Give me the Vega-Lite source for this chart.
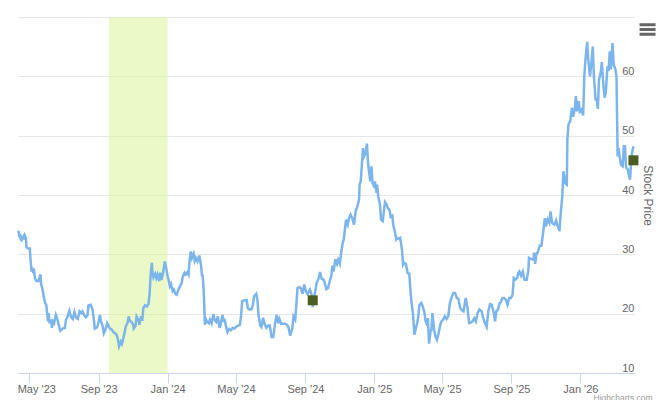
{
  "$schema": "https://vega.github.io/schema/vega-lite/v6.json",
  "width": 616,
  "height": 356,
  "autosize": "none",
  "padding": {"left": 18, "top": 17, "right": 26, "bottom": 27},
  "background": "white",
  "config": {
    "view": {"stroke": null},
    "font": "Liberation Sans"
  },
  "layer": [
    {
      "data": {"values": [{"start": "2023-09-19", "end": "2024-01-01"}]},
      "mark": {"type": "rect", "color": "#d8f391", "opacity": 0.5},
      "encoding": {
        "x": {
          "field": "start",
          "type": "temporal",
          "title": null,
          "scale": {"type": "utc", "domain": ["2023-04-11", "2026-04-06"]},
          "axis": {
            "values": ["2023-05-01", "2023-09-01", "2024-01-01", "2024-05-01", "2024-09-01", "2025-01-01", "2025-05-01", "2025-09-01", "2026-01-01"],
            "format": "%b '%y",
            "grid": false,
            "tickSize": 10,
            "tickColor": "#ccd6eb",
            "domainColor": "#ccd6eb",
            "labelColor": "#666666",
            "labelFontSize": 11,
            "labelFont": "Liberation Sans",
            "labelPadding": 0,
            "labelOverlap": false,
            "labelBound": false,
            "labelFlush": false,
            "labelOffset": {"condition": {"test": "utcyear(datum.value) == 2023 && utcmonth(datum.value) == 4", "value": 7}, "value": 0}
          }
        },
        "x2": {"field": "end"}
      }
    },
    {
      "data": {"values": [
        {"date":"2023-04-12","price":34.0},{"date":"2023-04-13","price":33.2},{"date":"2023-04-15","price":32.75},{"date":"2023-04-16","price":33.0},{"date":"2023-04-18","price":32.5},{"date":"2023-04-20","price":32.9},{"date":"2023-04-21","price":32.5},{"date":"2023-04-23","price":33.2},{"date":"2023-04-25","price":32.75},{"date":"2023-04-26","price":31.2},{"date":"2023-04-29","price":31.0},{"date":"2023-05-02","price":31.0},{"date":"2023-05-03","price":29.4},{"date":"2023-05-05","price":27.1},{"date":"2023-05-06","price":27.8},{"date":"2023-05-08","price":26.85},{"date":"2023-05-09","price":27.6},{"date":"2023-05-11","price":26.0},{"date":"2023-05-13","price":25.55},{"date":"2023-05-17","price":25.45},{"date":"2023-05-21","price":26.6},{"date":"2023-05-22","price":24.9},{"date":"2023-05-24","price":24.3},{"date":"2023-05-26","price":23.2},{"date":"2023-05-29","price":21.8},{"date":"2023-05-31","price":21.5},
        {"date":"2023-06-02","price":19.8},{"date":"2023-06-03","price":18.7},{"date":"2023-06-04","price":20.1},{"date":"2023-06-06","price":18.6},{"date":"2023-06-09","price":18.8},{"date":"2023-06-10","price":17.6},{"date":"2023-06-12","price":18.7},{"date":"2023-06-14","price":18.4},{"date":"2023-06-17","price":19.8},{"date":"2023-06-20","price":19.0},{"date":"2023-06-22","price":18.1},{"date":"2023-06-25","price":17.1},{"date":"2023-06-29","price":17.5},{"date":"2023-07-03","price":17.6},{"date":"2023-07-05","price":19.0},{"date":"2023-07-07","price":19.3},{"date":"2023-07-11","price":20.5},{"date":"2023-07-14","price":19.4},{"date":"2023-07-17","price":19.1},{"date":"2023-07-20","price":20.3},{"date":"2023-07-23","price":19.3},{"date":"2023-07-26","price":19.1},{"date":"2023-07-29","price":20.4},{"date":"2023-08-01","price":20.1},{"date":"2023-08-03","price":20.4},{"date":"2023-08-06","price":19.8},{"date":"2023-08-09","price":19.4},{"date":"2023-08-12","price":19.7},{"date":"2023-08-14","price":21.4},{"date":"2023-08-18","price":21.5},{"date":"2023-08-21","price":20.7},{"date":"2023-08-23","price":19.3},{"date":"2023-08-25","price":17.5},{"date":"2023-08-29","price":17.7},{"date":"2023-08-31","price":18.25},{"date":"2023-09-03","price":19.8},{"date":"2023-09-05","price":18.7},{"date":"2023-09-08","price":17.85},{"date":"2023-09-10","price":16.7},{"date":"2023-09-13","price":17.3},{"date":"2023-09-16","price":18.4},{"date":"2023-09-20","price":17.6},{"date":"2023-09-24","price":17.3},{"date":"2023-09-27","price":16.9},{"date":"2023-09-30","price":16.7},
        {"date":"2023-10-03","price":16.4},{"date":"2023-10-05","price":15.6},{"date":"2023-10-07","price":14.5},{"date":"2023-10-10","price":15.3},{"date":"2023-10-12","price":14.9},{"date":"2023-10-14","price":15.6},{"date":"2023-10-16","price":16.5},{"date":"2023-10-19","price":17.9},{"date":"2023-10-22","price":18.4},{"date":"2023-10-24","price":19.55},{"date":"2023-10-26","price":18.8},{"date":"2023-10-29","price":18.6},{"date":"2023-11-01","price":18.15},{"date":"2023-11-02","price":17.5},{"date":"2023-11-05","price":17.9},{"date":"2023-11-07","price":19.55},{"date":"2023-11-10","price":19.0},{"date":"2023-11-12","price":18.15},{"date":"2023-11-15","price":19.55},{"date":"2023-11-17","price":18.8},{"date":"2023-11-19","price":20.95},{"date":"2023-11-22","price":21.4},{"date":"2023-11-25","price":21.2},{"date":"2023-11-28","price":21.6},{"date":"2023-11-30","price":23.2},{"date":"2023-12-02","price":26.6},{"date":"2023-12-04","price":28.55},{"date":"2023-12-05","price":27.1},{"date":"2023-12-07","price":26.1},{"date":"2023-12-10","price":26.7},{"date":"2023-12-12","price":26.0},{"date":"2023-12-14","price":26.6},{"date":"2023-12-17","price":25.5},{"date":"2023-12-19","price":26.9},{"date":"2023-12-21","price":25.7},{"date":"2023-12-24","price":26.9},{"date":"2023-12-27","price":28.8},{"date":"2023-12-30","price":27.4},
        {"date":"2024-01-01","price":26.3},{"date":"2024-01-02","price":26.0},{"date":"2024-01-05","price":24.6},{"date":"2024-01-07","price":25.0},{"date":"2024-01-10","price":23.8},{"date":"2024-01-12","price":24.05},{"date":"2024-01-15","price":23.3},{"date":"2024-01-17","price":23.2},{"date":"2024-01-20","price":24.05},{"date":"2024-01-23","price":24.6},{"date":"2024-01-26","price":25.2},{"date":"2024-01-28","price":26.3},{"date":"2024-01-31","price":26.9},{"date":"2024-02-02","price":26.6},{"date":"2024-02-05","price":27.0},{"date":"2024-02-07","price":26.6},{"date":"2024-02-09","price":29.1},{"date":"2024-02-11","price":30.5},{"date":"2024-02-13","price":29.4},{"date":"2024-02-16","price":30.1},{"date":"2024-02-18","price":28.9},{"date":"2024-02-20","price":29.4},{"date":"2024-02-23","price":28.8},{"date":"2024-02-26","price":29.8},{"date":"2024-02-29","price":28.3},{"date":"2024-03-02","price":26.3},{"date":"2024-03-03","price":26.6},{"date":"2024-03-05","price":23.8},{"date":"2024-03-07","price":18.15},{"date":"2024-03-09","price":19.0},{"date":"2024-03-11","price":18.6},{"date":"2024-03-14","price":18.4},{"date":"2024-03-16","price":19.0},{"date":"2024-03-19","price":18.4},{"date":"2024-03-22","price":19.95},{"date":"2024-03-24","price":19.0},{"date":"2024-03-27","price":18.6},{"date":"2024-03-30","price":19.55},{"date":"2024-04-02","price":17.6},{"date":"2024-04-04","price":18.15},{"date":"2024-04-07","price":19.8},{"date":"2024-04-10","price":18.6},
        {"date":"2024-04-11","price":19.1},{"date":"2024-04-13","price":18.0},{"date":"2024-04-16","price":16.85},{"date":"2024-04-19","price":17.4},{"date":"2024-04-22","price":17.2},{"date":"2024-04-25","price":17.6},{"date":"2024-04-28","price":17.5},{"date":"2024-05-01","price":17.75},{"date":"2024-05-05","price":18.0},{"date":"2024-05-08","price":18.15},{"date":"2024-05-10","price":19.55},{"date":"2024-05-12","price":22.1},{"date":"2024-05-16","price":22.25},{"date":"2024-05-20","price":22.25},{"date":"2024-05-22","price":20.95},{"date":"2024-05-25","price":20.7},{"date":"2024-05-29","price":20.8},{"date":"2024-05-31","price":21.5},{"date":"2024-06-02","price":22.9},{"date":"2024-06-06","price":23.35},{"date":"2024-06-08","price":22.35},{"date":"2024-06-10","price":19.8},{"date":"2024-06-13","price":18.0},{"date":"2024-06-15","price":17.75},{"date":"2024-06-18","price":19.3},{"date":"2024-06-21","price":18.15},{"date":"2024-06-24","price":17.6},{"date":"2024-06-27","price":18.0},{"date":"2024-06-30","price":18.0},{"date":"2024-07-03","price":16.05},{"date":"2024-07-06","price":16.05},{"date":"2024-07-09","price":18.15},{"date":"2024-07-12","price":19.8},{"date":"2024-07-15","price":18.4},{"date":"2024-07-17","price":19.1},{"date":"2024-07-20","price":18.3},{"date":"2024-07-23","price":18.3},{"date":"2024-07-27","price":18.3},{"date":"2024-07-30","price":18.15},{"date":"2024-08-02","price":17.75},{"date":"2024-08-05","price":16.3},{"date":"2024-08-09","price":17.6},{"date":"2024-08-11","price":19.55},{"date":"2024-08-14","price":19.0},{"date":"2024-08-16","price":21.5},{"date":"2024-08-18","price":24.3},{"date":"2024-08-21","price":24.5},{"date":"2024-08-24","price":24.3},{"date":"2024-08-27","price":23.35},{"date":"2024-08-30","price":24.9},{"date":"2024-09-02","price":23.75},{"date":"2024-09-05","price":23.3},{"date":"2024-09-09","price":24.05},{"date":"2024-09-12","price":23.2},{"date":"2024-09-14","price":21.1},{"date":"2024-09-18","price":23.5},{"date":"2024-09-21","price":25.2},{"date":"2024-09-24","price":25.85},{"date":"2024-09-27","price":27.0},{"date":"2024-09-30","price":25.85},{"date":"2024-10-03","price":25.75},
        {"date":"2024-10-05","price":25.3},{"date":"2024-10-08","price":24.15},{"date":"2024-10-11","price":24.3},{"date":"2024-10-14","price":25.45},{"date":"2024-10-17","price":26.4},{"date":"2024-10-19","price":28.1},{"date":"2024-10-21","price":27.1},{"date":"2024-10-24","price":29.2},{"date":"2024-10-27","price":28.4},{"date":"2024-10-29","price":29.1},{"date":"2024-11-01","price":28.4},{"date":"2024-11-03","price":30.0},{"date":"2024-11-06","price":31.9},{"date":"2024-11-08","price":32.5},{"date":"2024-11-10","price":34.2},{"date":"2024-11-12","price":35.85},{"date":"2024-11-15","price":35.0},{"date":"2024-11-17","price":36.0},{"date":"2024-11-20","price":36.7},{"date":"2024-11-23","price":36.15},{"date":"2024-11-26","price":35.0},{"date":"2024-11-29","price":37.25},{"date":"2024-12-02","price":38.1},{"date":"2024-12-05","price":39.2},{"date":"2024-12-06","price":41.75},{"date":"2024-12-08","price":42.3},{"date":"2024-12-10","price":45.1},{"date":"2024-12-12","price":47.9},{"date":"2024-12-14","price":46.5},{"date":"2024-12-17","price":47.1},{"date":"2024-12-19","price":48.65},{"date":"2024-12-21","price":45.4},{"date":"2024-12-23","price":43.7},{"date":"2024-12-25","price":42.3},{"date":"2024-12-27","price":44.85},{"date":"2024-12-29","price":42.0},{"date":"2024-12-31","price":41.6},
        {"date":"2025-01-02","price":42.3},{"date":"2025-01-05","price":40.35},{"date":"2025-01-06","price":41.75},{"date":"2025-01-08","price":39.8},{"date":"2025-01-11","price":38.4},{"date":"2025-01-13","price":35.85},{"date":"2025-01-16","price":35.6},{"date":"2025-01-18","price":37.25},{"date":"2025-01-20","price":38.8},{"date":"2025-01-23","price":38.4},{"date":"2025-01-25","price":37.8},{"date":"2025-01-28","price":37.5},{"date":"2025-01-30","price":36.3},{"date":"2025-02-02","price":36.5},{"date":"2025-02-04","price":34.7},{"date":"2025-02-06","price":34.05},{"date":"2025-02-09","price":32.5},{"date":"2025-02-11","price":32.75},{"date":"2025-02-14","price":32.6},{"date":"2025-02-16","price":32.75},{"date":"2025-02-19","price":30.8},{"date":"2025-02-21","price":28.25},{"date":"2025-02-23","price":28.55},{"date":"2025-02-26","price":28.4},{"date":"2025-03-01","price":26.85},{"date":"2025-03-04","price":26.75},{"date":"2025-03-06","price":24.05},{"date":"2025-03-08","price":21.8},{"date":"2025-03-11","price":19.55},{"date":"2025-03-13","price":16.45},{"date":"2025-03-15","price":17.3},{"date":"2025-03-18","price":18.4},{"date":"2025-03-20","price":19.55},{"date":"2025-03-22","price":21.5},{"date":"2025-03-25","price":21.8},{"date":"2025-03-28","price":21.2},{"date":"2025-03-31","price":20.1},
        {"date":"2025-04-02","price":18.7},{"date":"2025-04-05","price":18.0},{"date":"2025-04-06","price":19.25},{"date":"2025-04-08","price":14.95},{"date":"2025-04-11","price":17.3},{"date":"2025-04-12","price":17.0},{"date":"2025-04-14","price":20.1},{"date":"2025-04-17","price":17.3},{"date":"2025-04-19","price":16.3},{"date":"2025-04-22","price":15.6},{"date":"2025-04-25","price":16.75},{"date":"2025-04-28","price":18.15},{"date":"2025-04-30","price":18.7},{"date":"2025-05-03","price":19.0},{"date":"2025-05-06","price":19.55},{"date":"2025-05-09","price":19.1},{"date":"2025-05-12","price":19.55},{"date":"2025-05-15","price":21.8},{"date":"2025-05-18","price":22.8},{"date":"2025-05-21","price":23.5},{"date":"2025-05-24","price":23.5},{"date":"2025-05-27","price":22.65},{"date":"2025-05-30","price":22.5},{"date":"2025-06-02","price":21.0},{"date":"2025-06-05","price":20.6},{"date":"2025-06-08","price":20.4},{"date":"2025-06-12","price":22.65},{"date":"2025-06-15","price":21.0},{"date":"2025-06-18","price":18.4},{"date":"2025-06-21","price":18.5},{"date":"2025-06-24","price":18.7},{"date":"2025-06-27","price":19.25},{"date":"2025-06-30","price":18.7},{"date":"2025-07-03","price":20.1},{"date":"2025-07-06","price":20.7},{"date":"2025-07-10","price":20.4},{"date":"2025-07-13","price":19.25},{"date":"2025-07-16","price":18.4},{"date":"2025-07-19","price":17.75},{"date":"2025-07-22","price":20.4},{"date":"2025-07-25","price":21.6},{"date":"2025-07-28","price":21.5},{"date":"2025-07-31","price":20.4},{"date":"2025-08-03","price":18.7},{"date":"2025-08-05","price":20.4},{"date":"2025-08-08","price":20.7},{"date":"2025-08-11","price":21.8},{"date":"2025-08-13","price":21.9},{"date":"2025-08-16","price":22.65},{"date":"2025-08-19","price":22.65},{"date":"2025-08-22","price":22.35},{"date":"2025-08-25","price":21.5},{"date":"2025-08-28","price":22.65},{"date":"2025-08-31","price":22.65},{"date":"2025-09-03","price":23.2},{"date":"2025-09-05","price":26.0},{"date":"2025-09-08","price":25.75},{"date":"2025-09-11","price":26.0},{"date":"2025-09-13","price":26.85},{"date":"2025-09-15","price":27.1},
        {"date":"2025-09-18","price":26.4},{"date":"2025-09-21","price":27.1},{"date":"2025-09-24","price":25.7},{"date":"2025-09-28","price":25.7},{"date":"2025-10-01","price":27.4},{"date":"2025-10-02","price":29.4},{"date":"2025-10-06","price":29.2},{"date":"2025-10-10","price":29.1},{"date":"2025-10-11","price":30.3},{"date":"2025-10-13","price":28.4},{"date":"2025-10-15","price":29.95},{"date":"2025-10-18","price":30.5},{"date":"2025-10-21","price":31.45},{"date":"2025-10-24","price":31.45},{"date":"2025-10-27","price":33.6},{"date":"2025-10-30","price":36.1},{"date":"2025-11-01","price":34.7},{"date":"2025-11-04","price":35.85},{"date":"2025-11-07","price":35.3},{"date":"2025-11-09","price":37.25},{"date":"2025-11-12","price":35.3},{"date":"2025-11-16","price":35.0},{"date":"2025-11-19","price":35.7},{"date":"2025-11-21","price":35.0},{"date":"2025-11-25","price":33.9},{"date":"2025-11-27","price":36.7},{"date":"2025-11-30","price":39.8},{"date":"2025-12-02","price":44.0},{"date":"2025-12-05","price":42.0},{"date":"2025-12-08","price":41.75},{"date":"2025-12-09","price":49.35},{"date":"2025-12-11","price":51.9},{"date":"2025-12-14","price":52.4},{"date":"2025-12-17","price":54.7},{"date":"2025-12-19","price":53.2},{"date":"2025-12-22","price":54.4},{"date":"2025-12-24","price":56.65},{"date":"2025-12-26","price":54.1},{"date":"2025-12-29","price":55.8},{"date":"2025-12-31","price":54.1},
        {"date":"2026-01-03","price":54.4},{"date":"2026-01-06","price":53.4},{"date":"2026-01-08","price":60.0},{"date":"2026-01-10","price":62.8},{"date":"2026-01-13","price":65.8},{"date":"2026-01-15","price":62.8},{"date":"2026-01-18","price":60.0},{"date":"2026-01-20","price":61.7},{"date":"2026-01-23","price":65.0},{"date":"2026-01-25","price":60.0},{"date":"2026-01-28","price":56.1},{"date":"2026-01-30","price":56.1},{"date":"2026-02-01","price":54.5},{"date":"2026-02-03","price":59.45},{"date":"2026-02-06","price":60.6},{"date":"2026-02-08","price":62.4},{"date":"2026-02-11","price":58.3},{"date":"2026-02-13","price":56.4},{"date":"2026-02-15","price":57.2},{"date":"2026-02-18","price":61.7},{"date":"2026-02-20","price":60.9},{"date":"2026-02-22","price":64.2},{"date":"2026-02-24","price":61.15},{"date":"2026-02-27","price":65.6},{"date":"2026-03-01","price":62.0},{"date":"2026-03-04","price":61.15},{"date":"2026-03-06","price":60.0},{"date":"2026-03-07","price":53.3},{"date":"2026-03-08","price":46.5},{"date":"2026-03-10","price":47.9},{"date":"2026-03-11","price":46.8},{"date":"2026-03-14","price":45.1},{"date":"2026-03-17","price":44.85},{"date":"2026-03-19","price":48.2},{"date":"2026-03-21","price":48.2},{"date":"2026-03-23","price":44.6},{"date":"2026-03-26","price":44.3},{"date":"2026-03-27","price":43.7},{"date":"2026-03-30","price":42.6},{"date":"2026-04-01","price":45.7},{"date":"2026-04-02","price":46.8},{"date":"2026-04-05","price":48.2}
      ]},
      "mark": {"type": "line", "color": "#7cb5ec", "strokeWidth": 2.5, "interpolate": "linear"},
      "encoding": {
        "x": {"field": "date", "type": "temporal", "title": null},
        "y": {
          "field": "price",
          "type": "quantitative",
          "scale": {"domain": [10, 70], "nice": false, "zero": false},
          "axis": {
            "orient": "right",
            "title": "Stock Price",
            "titleColor": "#666666",
            "titleFontSize": 12,
            "titleFontWeight": "normal",
            "titleFont": "Liberation Sans",
            "titleX": 6,
            "titleY": 178,
            "values": [10, 20, 30, 40, 50, 60, 70],
            "labelExpr": "datum.value == 70 ? '' : datum.label",
            "grid": true,
            "gridColor": "#e6e6e6",
            "domain": false,
            "ticks": false,
            "labelColor": "#666666",
            "labelFontSize": 11,
            "labelFont": "Liberation Sans",
            "labelAlign": "right",
            "labelPadding": 0,
            "labelOffset": -5
          }
        }
      }
    },
    {
      "data": {"values": [
        {"date": "2024-09-14", "price": 22.25},
        {"date": "2026-04-05", "price": 45.85}
      ]},
      "mark": {"type": "point", "shape": "square", "filled": true, "size": 100, "color": "#4b5d23", "opacity": 1, "strokeWidth": 0, "clip": false},
      "encoding": {
        "x": {"field": "date", "type": "temporal", "title": null},
        "y": {"field": "price", "type": "quantitative"}
      }
    },
    {
      "data": {"values": [{"date": "2026-04-30", "price": 67.9}]},
      "mark": {"type": "point", "shape": "M-1,-0.6H1M-1,0H1M-1,0.6H1", "filled": false, "size": 256, "stroke": "#666666", "strokeWidth": 3, "opacity": 1, "clip": false},
      "encoding": {
        "x": {"field": "date", "type": "temporal", "title": null},
        "y": {"field": "price", "type": "quantitative"}
      }
    },
    {
      "data": {"values": [{"date": "2026-05-09", "price": 5.36, "label": "Highcharts.com"}]},
      "mark": {"type": "text", "align": "right", "baseline": "alphabetic", "fontSize": 8.5, "color": "#999999", "font": "Liberation Sans", "clip": false},
      "encoding": {
        "x": {"field": "date", "type": "temporal", "title": null},
        "y": {"field": "price", "type": "quantitative"},
        "text": {"field": "label"}
      }
    }
  ]
}
